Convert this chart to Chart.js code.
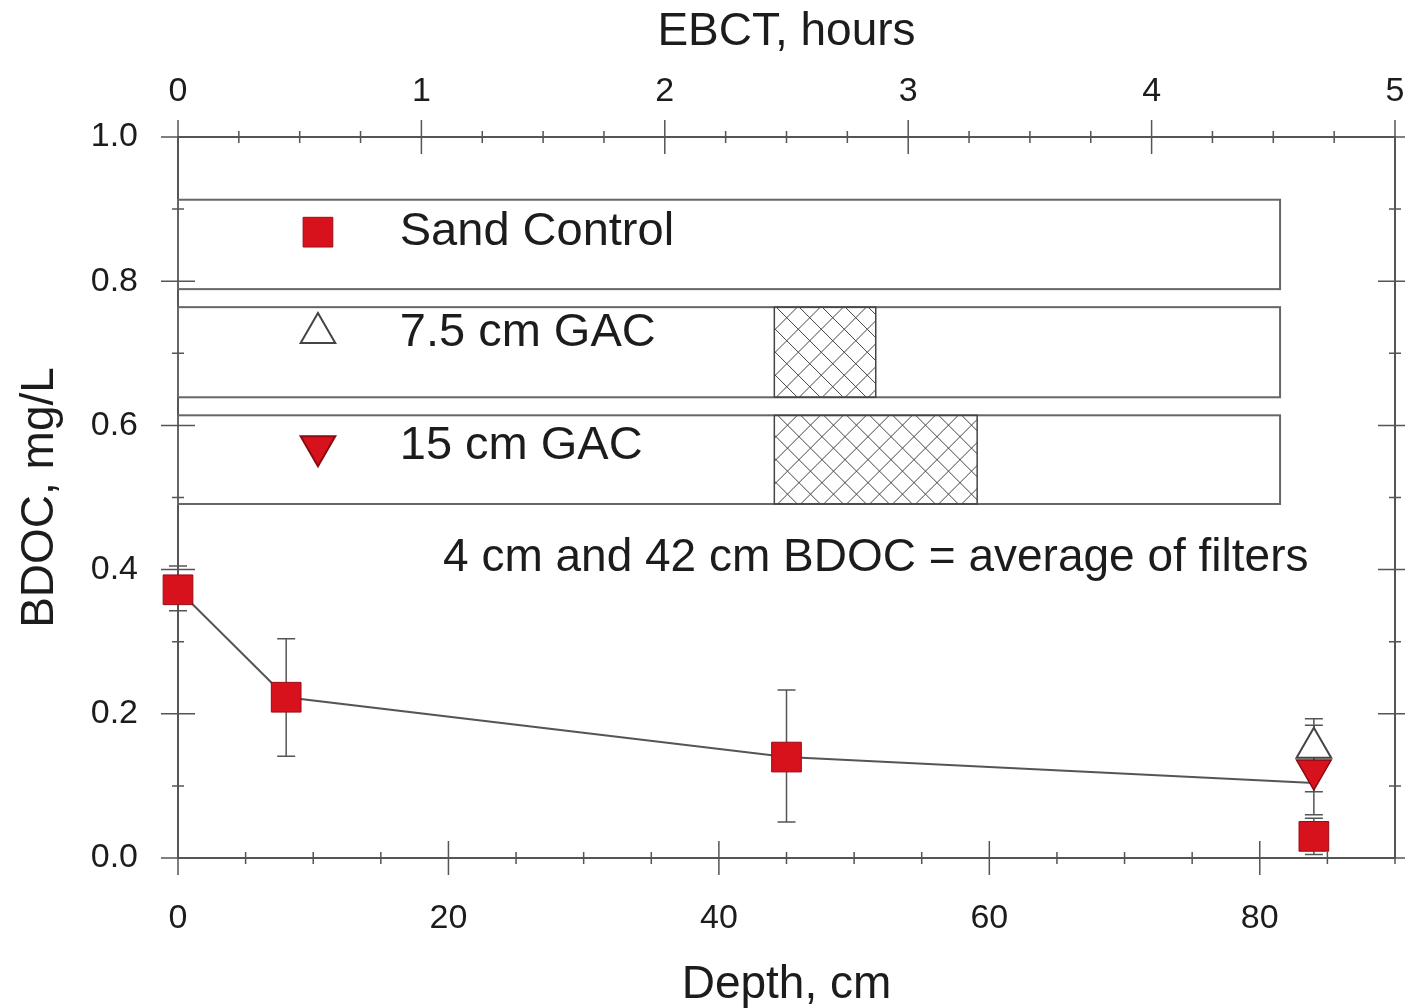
<!DOCTYPE html>
<html>
<head>
<meta charset="utf-8">
<script src="https://cdn.jsdelivr.net/npm/chart.js@4.4.1/dist/chart.umd.min.js"></script>
<style>
  html, body { margin: 0; padding: 0; background: #fff; overflow: hidden; }
  #wrap { width: 1405px; height: 1008px; position: relative; }
</style>
</head>
<body>
<div id="wrap"><canvas id="chart"></canvas></div>
<script>
// sampling depths, cm
var depths = [0, 8, 45, 84];

// sand control filter
var sandControl = [0.372, 0.223, 0.14, 0.03];
var sandLow = [0.343, 0.141, 0.05, 0.005];
var sandHigh = [0.405, 0.304, 0.233, 0.055];

// line = average of the filters
var filterAverage = [0.372, 0.223, 0.14, 0.104];

// GAC filters, only sampled at the bottom
var gacDepth = [84];
var gac75 = [0.153];
var gac75Low = [0.092];
var gac75High = [0.184];
var gac15 = [0.122];
var gac15Low = [0.06];
var gac15High = [0.193];

var depthTicks = [0, 20, 40, 60, 80];
var ebctTicks = [0, 1, 2, 3, 4, 5];
var bdocTicks = [0, 0.2, 0.4, 0.6, 0.8, 1.0];

var legendLabels = ['Sand Control', '7.5 cm GAC', '15 cm GAC'];
var gacBedDepth = [0, 7.5, 15];
var note = '4 cm and 42 cm BDOC = average of filters';

var RED = '#d8121c';
var TEXT = '#1c1c1c';
var AXIS = '#555';
var FONT = '"Liberation Sans", Arial, sans-serif';

function pts(xs, ys) {
  return xs.map(function (x, i) { return { x: x, y: ys[i] }; });
}

function useTicks(list) {
  return function (scale) {
    scale.ticks = list.map(function (v) { return { value: v }; });
  };
}

function fixSize(w, h) {
  return function (scale) {
    if (w !== null) scale.width = w;
    if (h !== null) scale.height = h;
    scale.paddingLeft = 0; scale.paddingRight = 0;
    scale.paddingTop = 0; scale.paddingBottom = 0;
  };
}

// error bars, drawn behind the markers
var errorBars = {
  id: 'errorBars',
  beforeDatasetsDraw: function (chart) {
    var ctx = chart.ctx, xs = chart.scales.x, ys = chart.scales.y;
    var sets = [
      [depths, sandLow, sandHigh],
      [gacDepth, gac75Low, gac75High],
      [gacDepth, gac15Low, gac15High]
    ];
    ctx.save();
    ctx.strokeStyle = '#555';
    ctx.lineWidth = 1.5;
    sets.forEach(function (s) {
      s[0].forEach(function (d, i) {
        var px = xs.getPixelForValue(d);
        var lo = ys.getPixelForValue(s[1][i]);
        var hi = ys.getPixelForValue(s[2][i]);
        ctx.beginPath();
        ctx.moveTo(px, lo); ctx.lineTo(px, hi);
        ctx.moveTo(px - 9, lo); ctx.lineTo(px + 9, lo);
        ctx.moveTo(px - 9, hi); ctx.lineTo(px + 9, hi);
        ctx.stroke();
      });
    });
    ctx.restore();
  }
};

// tick marks that cross the axis lines, with minor ticks
var crossTicks = {
  id: 'crossTicks',
  afterDraw: function (chart) {
    var ctx = chart.ctx, a = chart.chartArea, s = chart.scales;
    ctx.save();
    ctx.strokeStyle = AXIS;
    ctx.lineWidth = 1.5;
    ctx.beginPath();
    function hTicks(scale, y, step, major) {
      for (var v = scale.min; v <= scale.max + 1e-9; v += step) {
        var isMajor = Math.abs(v / major - Math.round(v / major)) < 1e-6;
        var len = isMajor ? 17 : 6;
        var px = scale.getPixelForValue(v);
        ctx.moveTo(px, y - len); ctx.lineTo(px, y + len);
      }
    }
    function vTicks(scale, x, step, major) {
      for (var v = scale.min; v <= scale.max + 1e-9; v += step) {
        var isMajor = Math.abs(v / major - Math.round(v / major)) < 1e-6;
        var len = isMajor ? 17 : 6;
        var py = scale.getPixelForValue(v);
        ctx.moveTo(x - len, py); ctx.lineTo(x + len, py);
      }
    }
    hTicks(s.x, a.bottom, 5, 20);
    hTicks(s.x2, a.top, 0.25, 1);
    vTicks(s.y, a.left, 0.1, 0.2);
    vTicks(s.y2, a.right, 0.1, 0.2);
    ctx.stroke();
    ctx.restore();
  }
};

// legend bars with the hatched GAC layer, and the note
var legendBars = {
  id: 'legendBars',
  beforeDatasetsDraw: function (chart) {
    var ctx = chart.ctx, xs = chart.scales.x, ys = chart.scales.y;
    var rows = [
      { top: 0.913, bottom: 0.789, textY: 0.868, style: 'rect', rot: 0, fill: RED, line: '#9a0c12' },
      { top: 0.764, bottom: 0.639, textY: 0.728, style: 'triangle', rot: 0, fill: '#fff', line: '#444' },
      { top: 0.614, bottom: 0.491, textY: 0.571, style: 'triangle', rot: 180, fill: RED, line: '#8a0a10' }
    ];
    var left = xs.getPixelForValue(0), right = xs.getPixelForValue(81.5);
    var hatchStart = 44.1;
    ctx.save();
    rows.forEach(function (r, i) {
      var t = ys.getPixelForValue(r.top), b = ys.getPixelForValue(r.bottom);
      ctx.strokeStyle = '#666';
      ctx.lineWidth = 2;
      ctx.strokeRect(left, t, right - left, b - t);

      if (gacBedDepth[i] > 0) {
        var h0 = xs.getPixelForValue(hatchStart);
        var h1 = xs.getPixelForValue(hatchStart + gacBedDepth[i]);
        ctx.save();
        ctx.beginPath();
        ctx.rect(h0, t, h1 - h0, b - t);
        ctx.clip();
        ctx.strokeStyle = '#444';
        ctx.lineWidth = 1;
        ctx.beginPath();
        var hh = b - t;
        for (var x = h0 - hh; x < h1 + hh; x += 23) {
          ctx.moveTo(x, t); ctx.lineTo(x + hh, b);
          ctx.moveTo(x + hh, t); ctx.lineTo(x, b);
        }
        ctx.stroke();
        ctx.restore();
        ctx.strokeStyle = '#444';
        ctx.lineWidth = 1.5;
        ctx.strokeRect(h0, t, h1 - h0, b - t);
      }

      var my = ys.getPixelForValue(r.textY);
      var mx = xs.getPixelForValue(10.35);
      ctx.fillStyle = r.fill;
      ctx.strokeStyle = r.line;
      ctx.lineWidth = r.style === 'rect' ? 1 : 2;
      Chart.helpers.drawPoint(ctx, { pointStyle: r.style, radius: r.style === 'rect' ? 21 : 20, rotation: r.rot, borderWidth: ctx.lineWidth }, mx, my);

      ctx.fillStyle = TEXT;
      ctx.font = '47px ' + FONT;
      ctx.textAlign = 'left';
      ctx.textBaseline = 'middle';
      ctx.fillText(legendLabels[i], xs.getPixelForValue(16.4), my);
    });
    ctx.font = '46px ' + FONT;
    ctx.fillText(note, xs.getPixelForValue(19.6), ys.getPixelForValue(0.416));
    ctx.restore();
  }
};

var noGrid = { display: false, drawTicks: false, tickLength: 0 };

new Chart(document.getElementById('chart'), {
  type: 'scatter',
  data: {
    datasets: [
      {
        label: 'Sand Control',
        data: pts(depths, sandControl),
        pointStyle: 'rect',
        pointRadius: 21,
        backgroundColor: RED,
        borderColor: '#9a0c12',
        borderWidth: 1,
        clip: false,
        order: 1
      },
      {
        label: '15 cm GAC',
        data: pts(gacDepth, gac15),
        pointStyle: 'triangle',
        rotation: 180,
        pointRadius: 20,
        backgroundColor: RED,
        borderColor: '#8a0a10',
        borderWidth: 1.5,
        clip: false,
        order: 2
      },
      {
        label: '7.5 cm GAC',
        data: pts(gacDepth, gac75),
        pointStyle: 'triangle',
        pointRadius: 20,
        backgroundColor: '#fff',
        borderColor: '#444',
        borderWidth: 2,
        clip: false,
        order: 3
      },
      {
        label: 'Average of filters',
        data: pts(depths, filterAverage),
        showLine: true,
        borderColor: '#555',
        borderWidth: 2,
        pointRadius: 0,
        clip: false,
        order: 4
      }
    ]
  },
  options: {
    responsive: true,
    maintainAspectRatio: false,
    animation: false,
    layout: { padding: 0, autoPadding: false },
    plugins: {
      legend: { display: false },
      tooltip: { enabled: false }
    },
    scales: {
      x: {
        type: 'linear',
        position: 'bottom',
        min: 0,
        max: 90,
        afterBuildTicks: useTicks(depthTicks),
        afterFit: fixSize(null, 150),
        grid: noGrid,
        border: { display: true, color: AXIS, width: 2 },
        ticks: { font: { family: FONT, size: 34 }, color: TEXT, padding: 40, maxRotation: 0, autoSkip: false },
        title: { display: true, text: 'Depth, cm', color: TEXT, font: { family: FONT, size: 46, lineHeight: 1 }, padding: { top: 0, bottom: 0 } }
      },
      x2: {
        type: 'linear',
        position: 'top',
        min: 0,
        max: 5,
        afterBuildTicks: useTicks(ebctTicks),
        afterFit: fixSize(null, 137),
        grid: noGrid,
        border: { display: true, color: AXIS, width: 2 },
        ticks: { font: { family: FONT, size: 34 }, color: TEXT, padding: 25, maxRotation: 0, autoSkip: false },
        title: { display: true, text: 'EBCT, hours', color: TEXT, font: { family: FONT, size: 46, lineHeight: 1 }, padding: { top: 9, bottom: 0 } }
      },
      y: {
        type: 'linear',
        position: 'left',
        min: 0,
        max: 1,
        afterBuildTicks: useTicks(bdocTicks),
        afterFit: fixSize(178, null),
        grid: noGrid,
        border: { display: true, color: AXIS, width: 2 },
        ticks: {
          font: { family: FONT, size: 34 }, color: TEXT, padding: 40,
          callback: function (v) { return v.toFixed(1); }
        },
        title: { display: true, text: 'BDOC, mg/L', color: TEXT, font: { family: FONT, size: 46, lineHeight: 1 }, padding: { top: 17, bottom: 0 } }
      },
      y2: {
        type: 'linear',
        position: 'right',
        min: 0,
        max: 1,
        afterFit: fixSize(10, null),
        grid: noGrid,
        border: { display: true, color: AXIS, width: 2 },
        ticks: { display: false }
      }
    }
  },
  plugins: [errorBars, legendBars, crossTicks]
});
</script>
</body>
</html>
